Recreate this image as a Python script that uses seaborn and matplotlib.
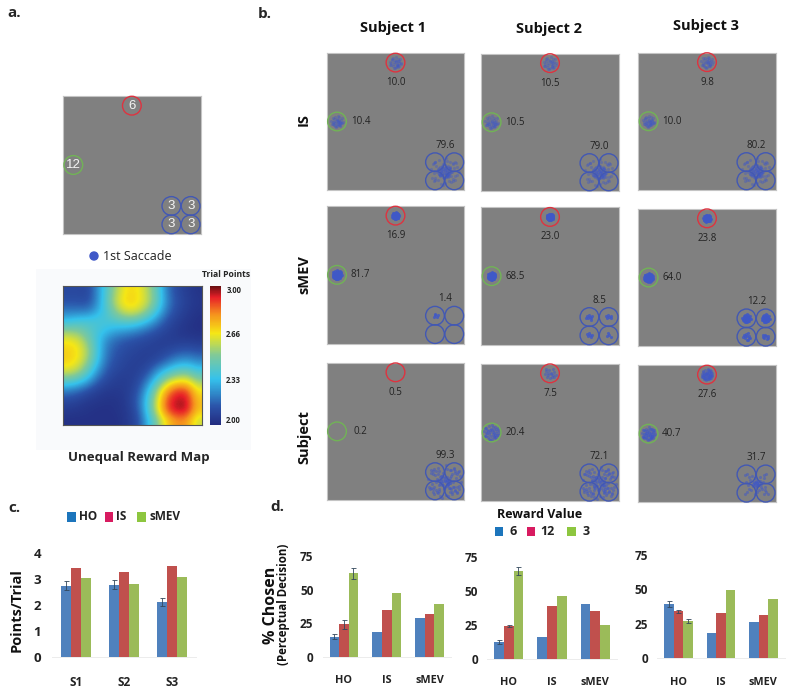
import matplotlib
matplotlib.use('Agg')
import matplotlib.pyplot as plt
from matplotlib.colors import LinearSegmentedColormap
from matplotlib.patches import Circle, Rectangle
import pandas as pd
import seaborn as sns

W, H = 800, 695

# --- panel a: reward map, estimated on a coarse grid
reward_map = [
    [2.10, 2.10, 2.09, 2.24, 2.42, 2.58, 2.68, 2.67, 2.58, 2.42, 2.20, 2.10, 2.06, 2.03],
    [2.12, 2.12, 2.11, 2.24, 2.44, 2.62, 2.70, 2.68, 2.60, 2.44, 2.22, 2.12, 2.07, 2.04],
    [2.20, 2.20, 2.20, 2.29, 2.40, 2.55, 2.64, 2.62, 2.52, 2.36, 2.19, 2.10, 2.06, 2.03],
    [2.33, 2.37, 2.38, 2.38, 2.38, 2.41, 2.44, 2.42, 2.34, 2.23, 2.12, 2.07, 2.04, 2.02],
    [2.52, 2.50, 2.43, 2.37, 2.32, 2.28, 2.26, 2.22, 2.17, 2.12, 2.08, 2.05, 2.03, 2.02],
    [2.66, 2.63, 2.50, 2.35, 2.22, 2.16, 2.13, 2.11, 2.09, 2.07, 2.06, 2.06, 2.06, 2.05],
    [2.70, 2.67, 2.56, 2.36, 2.19, 2.13, 2.10, 2.08, 2.07, 2.07, 2.09, 2.12, 2.14, 2.12],
    [2.70, 2.66, 2.53, 2.34, 2.17, 2.11, 2.08, 2.07, 2.07, 2.10, 2.17, 2.24, 2.26, 2.22],
    [2.63, 2.58, 2.44, 2.26, 2.13, 2.09, 2.07, 2.07, 2.11, 2.24, 2.34, 2.42, 2.44, 2.36],
    [2.44, 2.40, 2.30, 2.16, 2.09, 2.06, 2.06, 2.09, 2.20, 2.38, 2.56, 2.64, 2.65, 2.52],
    [2.22, 2.18, 2.12, 2.07, 2.05, 2.05, 2.06, 2.12, 2.30, 2.55, 2.78, 2.90, 2.88, 2.66],
    [2.10, 2.08, 2.05, 2.04, 2.03, 2.03, 2.06, 2.15, 2.36, 2.62, 2.88, 2.96, 2.95, 2.72],
    [2.05, 2.04, 2.03, 2.02, 2.02, 2.03, 2.05, 2.13, 2.36, 2.62, 2.88, 2.96, 2.95, 2.72],
    [2.02, 2.02, 2.02, 2.02, 2.02, 2.02, 2.05, 2.10, 2.30, 2.50, 2.70, 2.80, 2.78, 2.60],
]
map_ticks = [2.00, 2.33, 2.66, 3.00]
map_labels = ['2.00', '2.33', '2.66', '3.00']
target_values = ['6', '12', '3', '3', '3', '3']

# --- panel b: choice percentages
subjects = ['Subject 1', 'Subject 2', 'Subject 3']
conditions = ['IS', 'sMEV', 'Subject']
red_pct = [['10.0', '10.5', '9.8'], ['16.9', '23.0', '23.8'], ['0.5', '7.5', '27.6']]
green_pct = [['10.4', '10.5', '10.0'], ['81.7', '68.5', '64.0'], ['0.2', '20.4', '40.7']]
blue_pct = [['79.6', '79.0', '80.2'], ['1.4', '8.5', '12.2'], ['99.3', '72.1', '31.7']]

# saccade end points around a site, in units of that site's spread
saccade_dx = [.12, -.31, .45, -.08, .62, -.55, .28, -.72, .05, .38, -.22, .81, -.44, .17, -.63, .56,
              -.14, .33, -.91, .74, .02, -.37, .49, -.66, .23, .93, -.27, .09, -.82, .41, -.5, .67,
              -.03, .3, -.19, .58, -.77, .14, .85, -.42, .2, -.6, .52, -.1, .36, -.88, .7, -.33]
saccade_dy = [-.1, .22, .31, -.48, -.2, -.36, .6, .12, .75, -.66, -.05, .25, .58, .15, -.6, .52,
              .9, -.28, -.15, -.55, -.25, -.74, .02, .44, .38, .05, .8, -.9, .42, .68, .05, .3,
              .4, .1, -.33, -.48, -.5, -.72, -.3, -.16, .82, .7, -.75, .2, .45, .3, .6, .55]
# sites: red, green, four blue circles, middle of the blue circles (outer, core)
saccade_counts = [
    [[30, 34, 2, 2, 2, 2, 40, 48], [30, 34, 2, 2, 2, 2, 40, 48], [30, 34, 2, 2, 2, 2, 40, 48]],
    [[48, 48, 5, 0, 0, 0, 0, 0], [48, 48, 8, 6, 6, 4, 0, 0], [48, 48, 30, 30, 12, 8, 0, 0]],
    [[0, 0, 6, 6, 6, 6, 48, 24], [16, 40, 8, 8, 8, 8, 48, 24], [48, 48, 2, 2, 2, 4, 24, 12]],
]
saccade_spread = [
    [[.045, .045, .03, .03, .03, .03, .11, .05], [.05, .05, .03, .03, .03, .03, .11, .05], [.045, .045, .03, .03, .03, .03, .11, .05]],
    [[.026, .036, .03, .03, .03, .03, .03, .03], [.026, .03, .03, .03, .03, .03, .03, .03], [.028, .036, .032, .032, .035, .03, .03, .03]],
    [[.03, .03, .05, .05, .05, .05, .13, .05], [.05, .06, .05, .05, .05, .05, .13, .06], [.042, .05, .03, .03, .03, .04, .08, .03]],
]

# --- panel c
subject_ticks = ['S1', 'S2', 'S3']
strategies = ['HO', 'IS', 'sMEV']
points_ho = [2.75, 2.78, 2.12]
points_is = [3.42, 3.27, 3.50]
points_smev = [3.03, 2.82, 3.07]
points_ho_err = [.18, .18, .16]

# --- panel d
rewards = ['6', '12', '3']
chosen_6 = [[15, 18.5, 29], [12, 16, 40.5], [39.5, 18.5, 26]]
chosen_12 = [[24, 35, 32], [24, 39, 35], [34, 33, 31.5]]
chosen_3 = [[62, 47.5, 39], [64.5, 46, 24.5], [27, 49.5, 43]]
chosen_err = [[2, 3, 4], [1.5, 1, 3], [2, 1, 1.5]]

BAR_COLORS = ['#4f81bd', '#c0504d', '#9bbb59']
KEY_COLORS = ['#1c75bc', '#d81b60', '#8dc63f']
GRAY = '#808080'
RED, GREEN, BLUE = '#de3340', '#71b356', '#4258b4'
DOT = '#3f58c8'
TARGETS = [(.50, .07), (.075, .50), (.787, .797), (.927, .797), (.787, .93), (.927, .93)]
SITES = TARGETS + [(.857, .865), (.857, .865)]
ROW_ALPHA = [.38, .8, .5]

sns.set_theme(style='white')
plt.rcParams['font.family'] = ['Open Sans', 'DejaVu Sans']

fig = plt.figure(figsize=(W / 100, H / 100), dpi=100)


def px_axes(x0, y0, x1, y1):
    return fig.add_axes([x0 / W, 1 - y1 / H, (x1 - x0) / W, (y1 - y0) / H])


def px_text(x, y, s, size=8, weight='bold', ha='center', va='center', **kw):
    return fig.text(x / W, 1 - y / H, s, fontsize=size, fontweight=weight, ha=ha, va=va, **kw)


def px_key(x0, x1, y0, y1, color):
    fig.add_artist(Rectangle((x0 / W, 1 - y1 / H), (x1 - x0) / W, (y1 - y0) / H, color=color,
                             transform=fig.transFigure, lw=0))


def gaze_axes(box):
    ax = px_axes(*box)
    ax.set_facecolor(GRAY)
    ax.set_xlim(0, 1)
    ax.set_ylim(1, 0)
    ax.set_xticks([])
    ax.set_yticks([])
    for spine in ax.spines.values():
        spine.set_color('#c4c4c4')
        spine.set_linewidth(0.8)
    for i, (cx, cy) in enumerate(TARGETS):
        color = RED if i == 0 else GREEN if i == 1 else BLUE
        ax.add_patch(Circle((cx, cy), .068, fill=False, ec=color, lw=1.0, clip_on=False, zorder=4))
    return ax


# panel a
ax = gaze_axes((63, 96, 200.7, 234))
for (cx, cy), value in zip(TARGETS, target_values):
    ax.text(cx, cy, value, color='#f4f4f4', fontsize=9.5, ha='center', va='center',
            family='Liberation Sans', zorder=5)
px_text(7, 13, 'a.', size=11, ha='left')
fig.add_artist(Circle((94, H - 256), 4, transform=None, color=DOT))
px_text(103, 256, '1st Saccade', size=9, weight='normal', ha='left', color='#222222')

fig.add_artist(Rectangle((36 / W, 1 - 450 / H), 215 / W, 181 / H, color='#f9fafc',
                         transform=fig.transFigure, lw=0, zorder=-1))
jet_like = LinearSegmentedColormap.from_list('reward', [
    (0, '#232c80'), (.13, '#2b52a8'), (.33, '#35c2ec'), (.5, '#7fc99a'), (.66, '#f6e715'),
    (.8, '#f5901e'), (.92, '#e71f28'), (1, '#6b1012')])
ax = px_axes(62.7, 286, 201.7, 425)
im = ax.imshow(reward_map, cmap=jet_like, vmin=2, vmax=3, interpolation='bicubic', aspect='auto')
ax.set_xticks([])
ax.set_yticks([])
for spine in ax.spines.values():
    spine.set_color('#555555')
    spine.set_linewidth(0.8)
cax = px_axes(209.7, 286, 220.7, 425)
cb = fig.colorbar(im, cax=cax)
cb.set_ticks(map_ticks, labels=map_labels)
cb.ax.tick_params(length=0, labelsize=5.5, pad=4, labelcolor='#222222')
for lab in cb.ax.get_yticklabels():
    lab.set_fontweight('bold')
cb.ax.get_yticklabels()[0].set_va('bottom')
cb.ax.get_yticklabels()[-1].set_va('top')
cb.outline.set_visible(False)
px_text(225.7, 274, 'Trial Points', size=6.2)
px_text(139, 458, 'Unequal Reward Map', size=9.5)

# panel b
px_text(258, 14, 'b.', size=11, ha='left')
boxes = [
    [(326.7, 53, 464.3, 190), (481.3, 53.5, 618.7, 191), (638.3, 52.5, 775.7, 190)],
    [(326.7, 206, 464.3, 343.7), (481.3, 207.3, 618.7, 345), (638.3, 208.7, 775.7, 346.3)],
    [(326.7, 362.7, 464.3, 500), (481.3, 363.7, 618.7, 501.3), (638.3, 365, 775.7, 502.3)],
]
for r, row in enumerate(boxes):
    for c, box in enumerate(row):
        ax = gaze_axes(box)
        for (sx, sy), n, spread in zip(SITES, saccade_counts[r][c], saccade_spread[r][c]):
            if n == 0:
                continue
            xs = [sx + spread * d for d in saccade_dx[:n]]
            ys = [sy + spread * d for d in saccade_dy[:n]]
            sns.scatterplot(x=xs, y=ys, ax=ax, color=DOT, s=5, alpha=ROW_ALPHA[r], linewidth=0, zorder=3)
        ax.set_xlim(0, 1)
        ax.set_ylim(1, 0)
        ax.text(.50, .215, red_pct[r][c], fontsize=7, ha='center', va='center', color='#222222')
        ax.text(.245, .50, green_pct[r][c], fontsize=7, ha='center', va='center', color='#222222')
        ax.text(.86, .675, blue_pct[r][c], fontsize=7, ha='center', va='center', color='#222222')
for x, y, name in zip([392.7, 549, 705.7], [28, 29, 26], subjects):
    px_text(x, y, name, size=10.5, color='#111111')
for y, name in zip([120, 275, 437], conditions):
    px_text(304, y, name, size=10.5, rotation=90, color='#111111')


def grouped_bars(ax, frame, x, y, hue, order, hue_order, width, limit, yticks, pad):
    sns.barplot(data=frame, x=x, y=y, hue=hue, order=order, hue_order=hue_order,
                palette=BAR_COLORS, width=width, gap=0, saturation=1, errorbar=None,
                legend=False, linewidth=0, ax=ax)
    ax.set_ylim(0, limit)
    ax.set_xlim(-.5, 2.5)
    ax.set_xlabel('')
    ax.set_ylabel('')
    ax.set_yticks(yticks)
    ax.set_xticks([])
    ax.patch.set_alpha(0)
    ax.tick_params(left=False, length=0, labelsize=8.5, pad=pad)
    for lab in ax.get_yticklabels():
        lab.set_fontweight('bold')
        lab.set_color('#222222')
    sns.despine(ax=ax, left=True)
    ax.spines['bottom'].set_color('#ececec')
    ax.spines['bottom'].set_linewidth(0.7)


def bar_errors(ax, xs, ys, errs):
    ax.errorbar(xs, ys, yerr=errs, fmt='none', ecolor='#33475b', elinewidth=.6, capsize=1.8,
                capthick=.6)


# panel c
px_text(8, 508, 'c.', size=11, ha='left')
frame_c = pd.DataFrame({
    'subject': subject_ticks * 3,
    'strategy': [s for s in strategies for _ in subject_ticks],
    'points': points_ho + points_is + points_smev,
})
ax = px_axes(52, 553.3, 196, 656.7)
grouped_bars(ax, frame_c, 'subject', 'points', 'strategy', subject_ticks, strategies, .645, 4, [0, 1, 2, 3, 4], 8)
bars = ax.containers[0]
bar_errors(ax, [b.get_x() + b.get_width() / 2 for b in bars], [b.get_height() for b in bars], points_ho_err)
ax.tick_params(axis='y', labelsize=9.5)
for x, label in zip([76, 124, 172], subject_ticks):
    px_text(x, 682, label, size=8.5, color='#222222')
px_text(17, 610, 'Points/Trial', size=10.5, rotation=90, color='#111111')
for (x0, x1), color, (tx, label) in zip([(67, 76), (105, 113), (137, 146)], KEY_COLORS,
                                        [(79, 'HO'), (116, 'IS'), (149, 'sMEV')]):
    px_key(x0, x1, 512, 522, color)
    px_text(tx, 517, label, size=8.5, ha='left', color='#222222')

# panel d
px_text(270, 507, 'd.', size=11, ha='left')
boxes_d = [(322.5, 556, 451, 656.7), (487, 556.5, 617, 658.7), (657, 555, 785, 658.3)]
centers_d = [[344, 386.7, 429.7], [508.7, 551.7, 595.3], [678.3, 720.7, 763.3]]
for i, box in enumerate(boxes_d):
    frame_d = pd.DataFrame({
        'strategy': strategies * 3,
        'reward': [r for r in rewards for _ in strategies],
        'chosen': chosen_6[i] + chosen_12[i] + chosen_3[i],
    })
    ax = px_axes(*box)
    grouped_bars(ax, frame_d, 'strategy', 'chosen', 'reward', strategies, rewards, .67, 75, [0, 25, 50, 75], 6.5)
    first = [bars[0] for bars in ax.containers[:3]]
    bar_errors(ax, [b.get_x() + b.get_width() / 2 for b in first], [b.get_height() for b in first], chosen_err[i])
    for x, label in zip(centers_d[i], strategies):
        px_text(x, box[3] + 24, label, size=7.8, color='#222222')
px_text(271, 605, '% Chosen', size=11.5, rotation=90, color='#111111')
px_text(284, 604, '(Perceptual Decision)', size=8.3, rotation=90, color='#111111')
px_text(540, 515, 'Reward Value', size=9, color='#111111')
for (x0, x1), color, (tx, label) in zip([(495, 503), (527, 535), (567, 576)], KEY_COLORS,
                                        [(509, '6'), (540, '12'), (583, '3')]):
    px_key(x0, x1, 527, 536, color)
    px_text(tx, 531.5, label, size=9, ha='left', color='#222222')

fig.savefig('out.png', dpi=100)
plt.close(fig)
